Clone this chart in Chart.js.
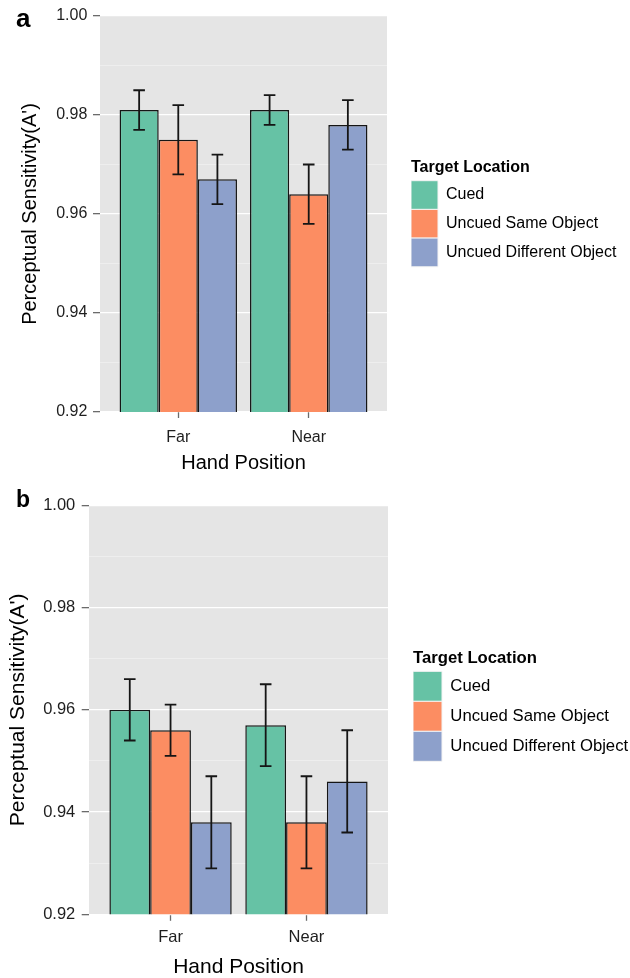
<!DOCTYPE html>
<html><head><meta charset="utf-8">
<script src="https://cdn.jsdelivr.net/npm/chart.js@4/dist/chart.umd.min.js"></script>
<style>
html,body{margin:0;padding:0;background:#fff;}
.panel{position:relative;width:630px;height:489px;}
canvas{display:block;}
</style></head><body>
<div class="panel"><canvas id="chartA" width="630" height="489"></canvas></div>
<div class="panel"><canvas id="chartB" width="630" height="489"></canvas></div>
<script>
// ---------- data ----------
const categories = ['Far', 'Near'];
const seriesNames = ['Cued', 'Uncued Same Object', 'Uncued Different Object'];
const seriesColors = ['#66C2A5', '#FC8D62', '#8DA0CB'];
const yMajorTicks = [0.92, 0.94, 0.96, 0.98, 1.00];
const yMinorTicks = [0.93, 0.95, 0.97, 0.99];
const xTitle = 'Hand Position';
const yTitle = "Perceptual Sensitivity(A')";
const legendTitle = 'Target Location';

// panel a
const cuedA = [0.981, 0.981];
const sameA = [0.975, 0.964];
const diffA = [0.967, 0.978];
const cuedALow = [0.977, 0.978];
const cuedAHigh = [0.985, 0.984];
const sameALow = [0.968, 0.958];
const sameAHigh = [0.982, 0.970];
const diffALow = [0.962, 0.973];
const diffAHigh = [0.972, 0.983];

// panel b
const cuedB = [0.960, 0.957];
const sameB = [0.956, 0.938];
const diffB = [0.938, 0.946];
const cuedBLow = [0.954, 0.949];
const cuedBHigh = [0.966, 0.965];
const sameBLow = [0.951, 0.929];
const sameBHigh = [0.961, 0.947];
const diffBLow = [0.929, 0.936];
const diffBHigh = [0.947, 0.956];

// ---------- helpers ----------
const FONT = '"Liberation Sans", Arial, sans-serif';
Chart.defaults.font.family = FONT;
const allYTicks = yMajorTicks.concat(yMinorTicks).sort((a, b) => a - b);
const isMajor = v => yMajorTicks.some(m => Math.abs(m - v) < 1e-6);

function legendNaturalWidth(fontSize, boxW) {
  const c = document.createElement('canvas').getContext('2d');
  c.font = fontSize + 'px ' + FONT;
  const w = Math.max(...seriesNames.map(t => c.measureText(t).width));
  return boxW + fontSize / 2 + w;
}

const panelBg = {
  id: 'panelBg',
  beforeDraw(chart) {
    const a = chart.chartArea, ctx = chart.ctx;
    ctx.save();
    ctx.fillStyle = '#E5E5E5';
    ctx.fillRect(a.left, a.top, a.right - a.left, a.bottom - a.top);
    ctx.restore();
  }
};

const errorBars = {
  id: 'errorBars',
  afterDatasetsDraw(chart, args, opts) {
    const ctx = chart.ctx, ys = chart.scales.y;
    ctx.save();
    ctx.strokeStyle = '#151515';
    ctx.lineWidth = opts.width || 1.5;
    const c = opts.cap || 5.5;
    chart.data.datasets.forEach((ds, i) => {
      const meta = chart.getDatasetMeta(i);
      meta.data.forEach((bar, j) => {
        const x = bar.x;
        const y1 = ys.getPixelForValue(ds.errLow[j]);
        const y2 = ys.getPixelForValue(ds.errHigh[j]);
        ctx.beginPath();
        ctx.moveTo(x, y1); ctx.lineTo(x, y2);
        ctx.moveTo(x - c, y1); ctx.lineTo(x + c, y1);
        ctx.moveTo(x - c, y2); ctx.lineTo(x + c, y2);
        ctx.stroke();
      });
    });
    ctx.restore();
  }
};

const panelLabel = {
  id: 'panelLabel',
  afterDraw(chart, args, opts) {
    const ctx = chart.ctx;
    ctx.save();
    ctx.fillStyle = '#000';
    ctx.font = 'bold ' + opts.size + 'px ' + FONT;
    ctx.textBaseline = 'alphabetic';
    ctx.textAlign = 'left';
    ctx.fillText(opts.text, opts.x, opts.y);
    ctx.restore();
  }
};

function makePanel(id, vals, lows, highs, L) {
  const legW = legendNaturalWidth(L.legendFont, L.boxW) + 1;
  const padRight = Math.max(0, 630 - L.chartRight - L.gap - legW);
  const datasets = seriesNames.map((name, s) => ({
    label: name,
    data: vals[s].map((v, i) => ({x: i + 1, y: v})),
    errLow: lows[s],
    errHigh: highs[s],
    backgroundColor: seriesColors[s],
    borderColor: '#151515',
    borderWidth: 1.5,
    borderSkipped: false,
    categoryPercentage: 0.9,
    barPercentage: 1.0
  }));
  return new Chart(document.getElementById(id), {
    type: 'bar',
    data: {datasets},
    plugins: [panelBg, errorBars, panelLabel],
    options: {
      responsive: false,
      devicePixelRatio: 1,
      animation: false,
      layout: {padding: {top: L.top, right: padRight, bottom: 0, left: 0}},
      scales: {
        x: {
          type: 'linear',
          min: 0.4, max: 2.6,
          offset: false,
          afterBuildTicks: s => { s.ticks = categories.map((c, i) => ({value: i + 1})); },
          afterFit: s => { s.height = L.xAxisH; },
          grid: {display: true, drawOnChartArea: false, drawTicks: true, tickLength: L.xTick,
                 tickColor: '#6b6b6b', tickWidth: 1.3, offset: false},
          border: {display: false},
          ticks: {autoSkip: false, maxRotation: 0, padding: L.xTickPad, color: '#1e1e1e',
                  font: {size: L.tickFont, lineHeight: 1},
                  callback: v => categories[Math.round(v) - 1]},
          title: {display: true, text: xTitle, color: '#000',
                  font: {size: L.titleFont, lineHeight: 1}, padding: {top: 0, bottom: L.xTitlePad}}
        },
        y: {
          min: 0.92, max: 1.0,
          afterBuildTicks: s => { s.ticks = allYTicks.map(v => ({value: v})); },
          afterFit: s => { s.width = L.yAxisW; },
          grid: {
            color: c => isMajor(c.tick.value) ? '#FFFFFF' : '#F2F2F2',
            lineWidth: c => isMajor(c.tick.value) ? 1.3 : 0.7,
            tickColor: c => isMajor(c.tick.value) ? '#6b6b6b' : 'rgba(0,0,0,0)',
            tickWidth: 1.3,
            tickLength: L.yTick,
            drawTicks: true
          },
          border: {display: false},
          ticks: {autoSkip: false, padding: L.yTickPad, color: '#1e1e1e',
                  font: {size: L.tickFont},
                  callback: v => isMajor(v) ? v.toFixed(2) : ''},
          title: {display: true, text: yTitle, color: '#000',
                  font: {size: L.titleFont, lineHeight: 1}, padding: {top: L.yTitlePad, bottom: 0}}
        },
        gap: {
          type: 'linear', position: 'right', display: true,
          grid: {display: false}, border: {display: false},
          ticks: {display: false},
          afterFit: s => { s.width = L.gap; }
        }
      },
      plugins: {
        tooltip: {enabled: false},
        legend: {
          position: 'right',
          align: 'start',
          maxWidth: legW,
          title: {display: true, text: legendTitle, color: '#000', position: 'start',
                  font: {size: L.legendFont, weight: 'bold'},
                  padding: {top: L.legTitleTop, bottom: L.legTitleBottom}},
          labels: {
            boxWidth: L.boxW, boxHeight: L.boxH, padding: 0, color: '#000',
            font: {size: L.legendFont},
            generateLabels: chart => Chart.defaults.plugins.legend.labels.generateLabels(chart)
              .map(l => Object.assign(l, {strokeStyle: '#F4F4F4', lineWidth: 1}))
          }
        },
        errorBars: {width: 1.8, cap: L.cap},
        panelLabel: {text: L.label, x: 16, y: L.labelY, size: L.labelSize}
      }
    }
  });
}

makePanel('chartA', [cuedA, sameA, diffA], [cuedALow, sameALow, diffALow], [cuedAHigh, sameAHigh, diffAHigh], {
  top: 16, chartRight: 387, xAxisH: 77, yAxisW: 100, gap: 24,
  xTick: 6, xTickPad: 12, yTick: 7, yTickPad: 5.7,
  tickFont: 16, titleFont: 20, legendFont: 16,
  xTitlePad: 16, yTitlePad: 20,
  legTitleTop: 144, legTitleBottom: 1.5, boxW: 27, boxH: 28.7,
  cap: 5.8, label: 'a', labelY: 27, labelSize: 26
});

makePanel('chartB', [cuedB, sameB, diffB], [cuedBLow, sameBLow, diffBLow], [cuedBHigh, sameBHigh, diffBHigh], {
  top: 11.7, chartRight: 388, xAxisH: 63.7, yAxisW: 89, gap: 25,
  xTick: 6.5, xTickPad: 8.5, yTick: 7.3, yTickPad: 6.4,
  tickFont: 16.5, titleFont: 21, legendFont: 16.7,
  xTitlePad: 0.5, yTitlePad: 7.5,
  legTitleTop: 149.8, legTitleBottom: 0.8, boxW: 29, boxH: 30,
  cap: 5.8, label: 'b', labelY: 17.7, labelSize: 23
});
</script>
</body></html>
